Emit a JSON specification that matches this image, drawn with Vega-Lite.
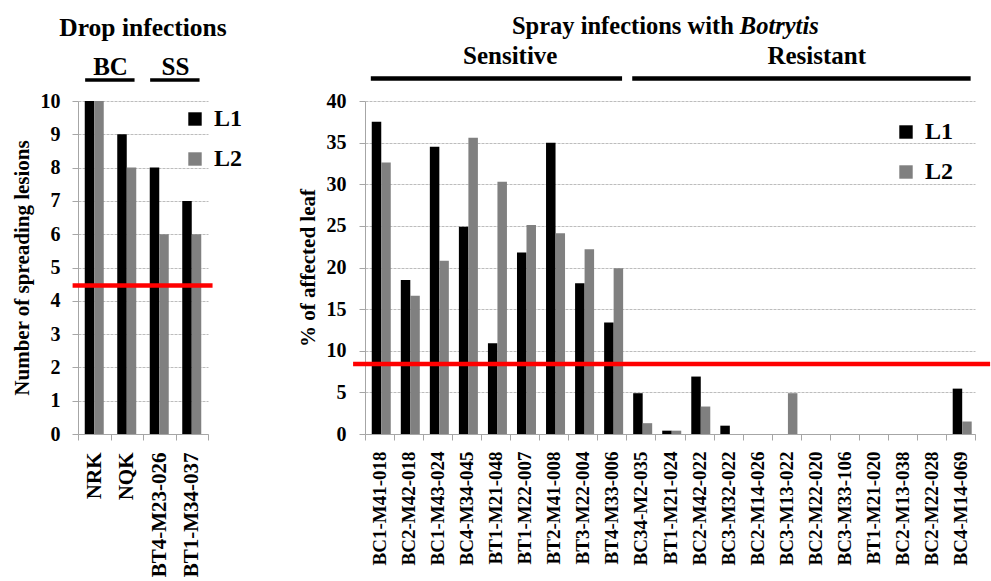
{
  "$schema": "https://vega.github.io/schema/vega-lite/v6.json",
  "padding": {"left": 11, "top": 13, "right": 0, "bottom": 0},
  "datasets": {
    "drop": [
      {"isolate": "NRK", "line": "L1", "lesions": 10},
      {"isolate": "NRK", "line": "L2", "lesions": 10},
      {"isolate": "NQK", "line": "L1", "lesions": 9},
      {"isolate": "NQK", "line": "L2", "lesions": 8},
      {"isolate": "BT4-M23-026", "line": "L1", "lesions": 8},
      {"isolate": "BT4-M23-026", "line": "L2", "lesions": 6},
      {"isolate": "BT1-M34-037", "line": "L1", "lesions": 7},
      {"isolate": "BT1-M34-037", "line": "L2", "lesions": 6}
    ],
    "dropThreshold": [{"threshold": 4.46, "first": "NRK", "last": "BT1-M34-037"}],
    "dropGroups": [
      {"group": "BC", "first": "NRK", "last": "NQK"},
      {"group": "SS", "first": "BT4-M23-026", "last": "BT1-M34-037"}
    ],
    "dropTitle": [{"title": "Drop infections", "at": "NQK"}],
    "spray": [
      {"isolate": "BC1-M41-018", "line": "L1", "pct": 37.5},
      {"isolate": "BC1-M41-018", "line": "L2", "pct": 32.6},
      {"isolate": "BC2-M42-018", "line": "L1", "pct": 18.5},
      {"isolate": "BC2-M42-018", "line": "L2", "pct": 16.6},
      {"isolate": "BC1-M43-024", "line": "L1", "pct": 34.5},
      {"isolate": "BC1-M43-024", "line": "L2", "pct": 20.8},
      {"isolate": "BC4-M34-045", "line": "L1", "pct": 24.9},
      {"isolate": "BC4-M34-045", "line": "L2", "pct": 35.6},
      {"isolate": "BT1-M21-048", "line": "L1", "pct": 10.9},
      {"isolate": "BT1-M21-048", "line": "L2", "pct": 30.3},
      {"isolate": "BT1-M22-007", "line": "L1", "pct": 21.8},
      {"isolate": "BT1-M22-007", "line": "L2", "pct": 25.1},
      {"isolate": "BT2-M41-008", "line": "L1", "pct": 35.0},
      {"isolate": "BT2-M41-008", "line": "L2", "pct": 24.1},
      {"isolate": "BT3-M22-004", "line": "L1", "pct": 18.1},
      {"isolate": "BT3-M22-004", "line": "L2", "pct": 22.2},
      {"isolate": "BT4-M33-006", "line": "L1", "pct": 13.4},
      {"isolate": "BT4-M33-006", "line": "L2", "pct": 19.9},
      {"isolate": "BC34-M2-035", "line": "L1", "pct": 4.9},
      {"isolate": "BC34-M2-035", "line": "L2", "pct": 1.3},
      {"isolate": "BT1-M21-024", "line": "L1", "pct": 0.4},
      {"isolate": "BT1-M21-024", "line": "L2", "pct": 0.4},
      {"isolate": "BC2-M42-022", "line": "L1", "pct": 6.9},
      {"isolate": "BC2-M42-022", "line": "L2", "pct": 3.3},
      {"isolate": "BC3-M32-022", "line": "L1", "pct": 1.0},
      {"isolate": "BC3-M32-022", "line": "L2", "pct": 0},
      {"isolate": "BC2-M14-026", "line": "L1", "pct": 0},
      {"isolate": "BC2-M14-026", "line": "L2", "pct": 0},
      {"isolate": "BC3-M13-022", "line": "L1", "pct": 0},
      {"isolate": "BC3-M13-022", "line": "L2", "pct": 4.9},
      {"isolate": "BC2-M22-020", "line": "L1", "pct": 0},
      {"isolate": "BC2-M22-020", "line": "L2", "pct": 0},
      {"isolate": "BC3-M33-106", "line": "L1", "pct": 0},
      {"isolate": "BC3-M33-106", "line": "L2", "pct": 0},
      {"isolate": "BT1-M21-020", "line": "L1", "pct": 0},
      {"isolate": "BT1-M21-020", "line": "L2", "pct": 0},
      {"isolate": "BC2-M13-038", "line": "L1", "pct": 0},
      {"isolate": "BC2-M13-038", "line": "L2", "pct": 0},
      {"isolate": "BC2-M22-028", "line": "L1", "pct": 0},
      {"isolate": "BC2-M22-028", "line": "L2", "pct": 0},
      {"isolate": "BC4-M14-069", "line": "L1", "pct": 5.45},
      {"isolate": "BC4-M14-069", "line": "L2", "pct": 1.5}
    ],
    "sprayThreshold": [{"threshold": 8.42, "first": "BC1-M41-018", "last": "BC4-M14-069"}],
    "sprayGroups": [
      {"group": "Sensitive", "first": "BC1-M41-018", "last": "BT4-M33-006", "mid": "BT1-M21-048"},
      {"group": "Resistant", "first": "BC34-M2-035", "last": "BC4-M14-069", "mid": "BC2-M22-020"}
    ],
    "sprayTitle": [{"lead": "Spray infections with", "genus": "Botrytis", "at": "BC2-M14-026"}]
  },
  "hconcat": [
    {
      "width": 130,
      "height": 333,
      "layer": [
        {
          "data": {"name": "drop"},
          "mark": {"type": "bar"},
          "encoding": {
            "x": {
              "field": "isolate", "type": "nominal", "title": null,
              "scale": {"domain": ["NRK", "NQK", "BT4-M23-026", "BT1-M34-037"], "paddingInner": 0, "paddingOuter": 0},
              "axis": {"labelAngle": -90, "tickBand": "extent", "labelFontSize": 21, "labelPadding": 12}
            },
            "xOffset": {"field": "line", "type": "nominal", "scale": {"paddingInner": 0, "paddingOuter": 0.71}},
            "y": {
              "field": "lesions", "type": "quantitative", "title": "Number of spreading lesions",
              "scale": {"domain": [0, 10], "nice": false},
              "axis": {"values": [0, 1, 2, 3, 4, 5, 6, 7, 8, 9, 10], "tickCount": 11, "labelOverlap": false, "labelSeparation": 0, "labelBound": false, "labelFlush": false, "labelPadding": 12, "grid": true, "gridColor": "#bdbdbd", "gridDash": [3, 1], "gridWidth": 1}
            },
            "color": {
              "field": "line", "type": "nominal",
              "scale": {"domain": ["L1", "L2"], "range": ["#000000", "#808080"]},
              "legend": {"orient": "none", "legendX": 105, "legendY": 6}
            }
          }
        },
        {
          "data": {"name": "dropThreshold"},
          "mark": {"type": "rule", "color": "#ff0000", "strokeWidth": 4.5},
          "encoding": {
            "x": {"field": "first", "type": "nominal", "bandPosition": -0.166, "title": null},
            "x2": {"field": "last", "bandPosition": 1.14},
            "y": {"field": "threshold", "type": "quantitative", "title": "Number of spreading lesions"}
          }
        },
        {
          "data": {"name": "dropGroups"},
          "mark": {"type": "rule", "color": "#000000", "strokeWidth": 3.5},
          "encoding": {
            "x": {"field": "first", "type": "nominal", "bandPosition": 0.22, "title": null},
            "x2": {"field": "last", "bandPosition": 0.74},
            "y": {"datum": 10.63, "type": "quantitative", "title": "Number of spreading lesions"}
          }
        },
        {
          "data": {"name": "dropGroups"},
          "mark": {"type": "text", "fontSize": 25, "fontWeight": "bold", "baseline": "alphabetic", "align": "center"},
          "encoding": {
            "x": {"field": "first", "type": "nominal", "bandPosition": 1, "title": null},
            "y": {"datum": 10.78, "type": "quantitative", "title": "Number of spreading lesions"},
            "text": {"field": "group"}
          }
        },
        {
          "data": {"name": "dropTitle"},
          "mark": {"type": "text", "fontSize": 25.5, "fontWeight": "bold", "baseline": "alphabetic", "align": "center"},
          "encoding": {
            "x": {"field": "at", "type": "nominal", "bandPosition": 1, "title": null},
            "y": {"datum": 11.95, "type": "quantitative", "title": "Number of spreading lesions"},
            "text": {"field": "title"}
          }
        }
      ]
    },
    {
      "width": 610,
      "height": 333,
      "layer": [
        {
          "data": {"name": "spray"},
          "mark": {"type": "bar"},
          "encoding": {
            "x": {
              "field": "isolate", "type": "nominal", "title": null,
              "scale": {
                "domain": ["BC1-M41-018", "BC2-M42-018", "BC1-M43-024", "BC4-M34-045", "BT1-M21-048", "BT1-M22-007", "BT2-M41-008", "BT3-M22-004", "BT4-M33-006", "BC34-M2-035", "BT1-M21-024", "BC2-M42-022", "BC3-M32-022", "BC2-M14-026", "BC3-M13-022", "BC2-M22-020", "BC3-M33-106", "BT1-M21-020", "BC2-M13-038", "BC2-M22-028", "BC4-M14-069"],
                "paddingInner": 0, "paddingOuter": 0
              },
              "axis": {"labelAngle": -90, "tickBand": "extent", "labelFontSize": 19, "labelPadding": 11}
            },
            "xOffset": {"field": "line", "type": "nominal", "scale": {"paddingInner": 0, "paddingOuter": 0.8}},
            "y": {
              "field": "pct", "type": "quantitative", "title": "% of affected leaf",
              "scale": {"domain": [0, 40], "nice": false},
              "axis": {"values": [0, 5, 10, 15, 20, 25, 30, 35, 40], "labelOverlap": false, "labelPadding": 13, "grid": true, "gridColor": "#bdbdbd", "gridDash": [3, 1], "gridWidth": 1}
            },
            "color": {
              "field": "line", "type": "nominal",
              "scale": {"domain": ["L1", "L2"], "range": ["#000000", "#808080"]},
              "legend": {"orient": "none", "legendX": 529, "legendY": 19}
            }
          }
        },
        {
          "data": {"name": "sprayThreshold"},
          "mark": {"type": "rule", "color": "#ff0000", "strokeWidth": 4.5},
          "encoding": {
            "x": {"field": "first", "type": "nominal", "bandPosition": -0.41, "title": null},
            "x2": {"field": "last", "bandPosition": 1.52},
            "y": {"field": "threshold", "type": "quantitative", "title": "% of affected leaf"}
          }
        },
        {
          "data": {"name": "sprayGroups"},
          "mark": {"type": "rule", "color": "#000000", "strokeWidth": 4.5},
          "encoding": {
            "x": {"field": "first", "type": "nominal", "bandPosition": 0.2, "title": null},
            "x2": {"field": "last", "bandPosition": 0.85},
            "y": {"datum": 42.7, "type": "quantitative", "title": "% of affected leaf"}
          }
        },
        {
          "data": {"name": "sprayGroups"},
          "transform": [{"filter": "datum.group === 'Sensitive'"}],
          "mark": {"type": "text", "fontSize": 25, "fontWeight": "bold", "baseline": "alphabetic", "align": "center"},
          "encoding": {
            "x": {"field": "mid", "type": "nominal", "bandPosition": 1, "title": null},
            "y": {"datum": 44.4, "type": "quantitative", "title": "% of affected leaf"},
            "text": {"field": "group"}
          }
        },
        {
          "data": {"name": "sprayGroups"},
          "transform": [{"filter": "datum.group === 'Resistant'"}],
          "mark": {"type": "text", "fontSize": 25, "fontWeight": "bold", "baseline": "alphabetic", "align": "center"},
          "encoding": {
            "x": {"field": "mid", "type": "nominal", "bandPosition": 0.55, "title": null},
            "y": {"datum": 44.4, "type": "quantitative", "title": "% of affected leaf"},
            "text": {"field": "group"}
          }
        },
        {
          "data": {"name": "sprayTitle"},
          "mark": {"type": "text", "fontSize": 24.5, "fontWeight": "bold", "baseline": "alphabetic", "align": "right", "dx": -3},
          "encoding": {
            "x": {"field": "at", "type": "nominal", "bandPosition": -0.2, "title": null},
            "y": {"datum": 48.05, "type": "quantitative", "title": "% of affected leaf"},
            "text": {"field": "lead"}
          }
        },
        {
          "data": {"name": "sprayTitle"},
          "mark": {"type": "text", "fontSize": 24.5, "fontWeight": "bold", "fontStyle": "italic", "baseline": "alphabetic", "align": "left", "dx": 3},
          "encoding": {
            "x": {"field": "at", "type": "nominal", "bandPosition": -0.2, "title": null},
            "y": {"datum": 48.05, "type": "quantitative", "title": "% of affected leaf"},
            "text": {"field": "genus"}
          }
        }
      ]
    }
  ],
  "spacing": 54,
  "resolve": {"scale": {"color": "independent"}, "legend": {"color": "independent"}},
  "config": {
    "font": "Times New Roman, Liberation Serif, serif",
    "view": {"stroke": null},
    "axis": {
      "labelFont": "Times New Roman, Liberation Serif, serif",
      "labelFontWeight": "bold",
      "labelColor": "#000000",
      "labelFontSize": 20,
      "labelOverlap": false,
      "titleFont": "Times New Roman, Liberation Serif, serif",
      "titleFontWeight": "bold",
      "titleColor": "#000000",
      "titleFontSize": 21,
      "titlePadding": 8,
      "domainColor": "#a6a6a6",
      "tickColor": "#a6a6a6",
      "tickSize": 6,
      "gridColor": "#bdbdbd",
      "gridDash": [3, 1]
    },
    "axisQuantitative": {"labelOverlap": false},
    "axisX": {"grid": false},
    "axisY": {"grid": true, "labelOverlap": false},
    "legend": {
      "title": null,
      "symbolType": "square",
      "symbolSize": 180,
      "symbolStrokeWidth": 0,
      "labelFont": "Times New Roman, Liberation Serif, serif",
      "labelFontWeight": "bold",
      "labelFontSize": 24,
      "labelColor": "#000000",
      "labelOffset": 7,
      "rowPadding": 16
    },
    "text": {"color": "#000000", "font": "Times New Roman, Liberation Serif, serif"}
  }
}
